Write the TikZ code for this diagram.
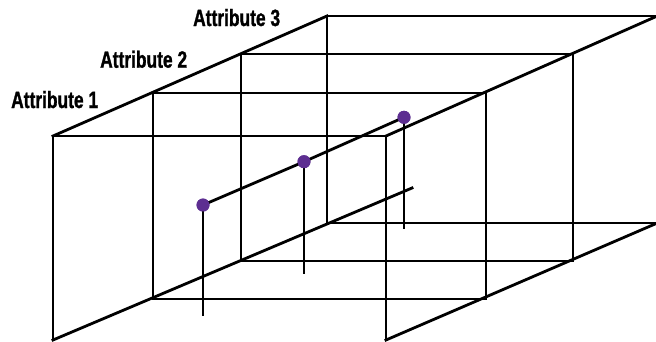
\documentclass[tikz,border=0pt]{standalone}
\usepackage{fontspec}
\usepackage{tikz}
\usetikzlibrary{calc}
\newfontfamily\attrfont{Liberation Sans}[FakeStretch=0.74,FakeBold=1.2]
\definecolor{dotpurple}{RGB}{93,46,145}
\definecolor{darkline}{RGB}{0,0,0}

\begin{document}
\begin{tikzpicture}[x=1pt,y=-1pt,
  frame/.style={draw=darkline,line width=2.8pt,line cap=rect},
  stem/.style={draw=darkline,line width=2.8pt},
  datadot/.style={circle,fill=dotpurple,minimum size=13pt,inner sep=0pt},
  attr/.style={font=\attrfont\bfseries\fontsize{23.5}{26}\selectfont,
               text=darkline,inner sep=0pt,anchor=base west}]
\useasboundingbox (0,0) rectangle (656,341);
% Frame corners (front to back)
\coordinate (A0) at (53,136);  \coordinate (B0) at (386,136);
\coordinate (C0) at (386,340); \coordinate (D0) at (53,340);
\coordinate (A1) at (153,93);  \coordinate (B1) at (486,93);
\coordinate (C1) at (486,299); \coordinate (D1) at (153,299);
\coordinate (A2) at (241,54);  \coordinate (B2) at (573,54);
\coordinate (C2) at (573,261); \coordinate (D2) at (241,261);
\coordinate (A3) at (327,16);  \coordinate (B3) at (657,16);
\coordinate (C3) at (657,223); \coordinate (D3) at (327,223);
\coordinate (E3) at (655,17);  \coordinate (F3) at (655,224);
\coordinate (G3) at (412,188);
% Frames
\draw[frame] (D0)--(A0)--(B0)--(C0);
\draw[frame] (A1) rectangle (C1);
\draw[frame] (A2) rectangle (C2);
\draw[frame] (C3)--(D3)--(A3)--(B3);
% Depth edges
\draw[frame] (A0)--(A3);
\draw[frame] (B0)--(E3);
\draw[frame] (D0)--(G3);
\draw[frame] (C0)--(F3);
% Data points
\node[datadot](P1) at (203,205)   {};
\node[datadot](P2) at (304,161.7) {};
\node[datadot](P3) at (404,117.3) {};
\coordinate (S1) at (203,316);
\coordinate (S2) at (304,274);
\coordinate (S3) at (404,229);
\draw[stem] (P1.center)--(S1);
\draw[stem] (P2.center)--(S2);
\draw[stem] (P3.center)--(S3);
\draw[stem] (P1.center)--(P2.center)--(P3.center);
\node[datadot] at (P1) {};
\node[datadot] at (P2) {};
\node[datadot] at (P3) {};
% Attribute labels
\node[attr](L1) at (11,108) {Attribute 1};
\node[attr](L2) at (100,67.7) {Attribute 2};
\node[attr](L3) at (193,26)   {Attribute 3};
\end{tikzpicture}
\end{document}
